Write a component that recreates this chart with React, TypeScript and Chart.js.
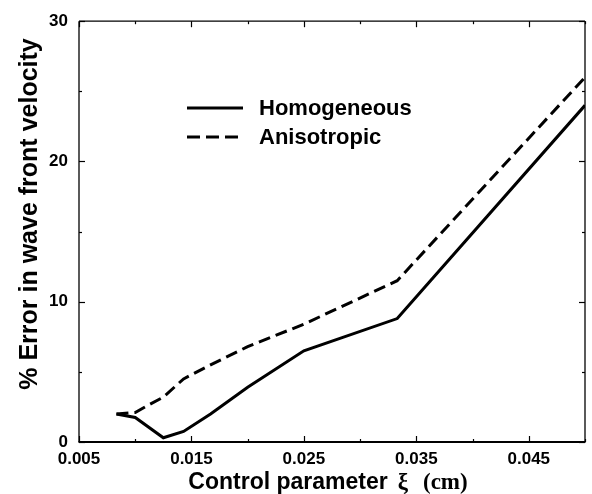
import React, { useEffect, useRef } from "react";
import { Chart, registerables } from "chart.js";

Chart.register(...registerables);

// Data
const homogeneousX = [0.00833, 0.01, 0.0125, 0.0143, 0.0167, 0.02, 0.025, 0.0333, 0.05];
const homogeneousY = [2.0, 1.75, 0.3, 0.75, 2.0, 3.9, 6.5, 8.8, 24.0];
const anisotropicX = [0.00833, 0.01, 0.0111, 0.0125, 0.0143, 0.0167, 0.02, 0.025, 0.0333, 0.05];
const anisotropicY = [2.0, 2.1, 2.6, 3.2, 4.5, 5.5, 6.8, 8.4, 11.5, 26.0];
const seriesLabels = ["Homogeneous", "Anisotropic"];
const xTitleMain = "Control parameter";
const xTitleSymbol = "\u03BE";
const xTitleUnit = "(cm)";
const yTitle = "% Error in wave front velocity";

const SANS = "'Liberation Sans', Arial, Helvetica, sans-serif";
const SERIF = "'Liberation Serif', 'Times New Roman', serif";

const decorPlugin = {
  id: "decor",
  afterDraw(chart: any) {
    const { ctx, chartArea: a, scales } = chart;
    const xs = scales.x;
    const ys = scales.y;
    ctx.save();
    ctx.strokeStyle = "#000";
    ctx.fillStyle = "#000";
    ctx.setLineDash([]);

    const seg = (x1: number, y1: number, x2: number, y2: number) => {
      ctx.beginPath();
      ctx.moveTo(x1, y1);
      ctx.lineTo(x2, y2);
      ctx.stroke();
    };
    // frame
    ctx.lineWidth = 1.3;
    seg(a.left, a.top, a.right, a.top);
    seg(a.left, a.top, a.left, a.bottom);
    seg(a.right, a.top, a.right, a.bottom);
    ctx.lineWidth = 2;
    seg(a.left - 0.5, a.bottom, a.right + 0.5, a.bottom);

    ctx.lineWidth = 1.2;
    xs.ticks.forEach((t: any) => {
      const px = Math.round(xs.getPixelForValue(t.value)) + 0.5;
      const major = Math.round(t.value * 1000) % 10 === 5;
      const len = major ? 6 : 3;
      seg(px, a.bottom, px, a.bottom - len);
      seg(px, a.top, px, a.top + len);
    });
    ys.ticks.forEach((t: any) => {
      const py = Math.round(ys.getPixelForValue(t.value)) + 0.5;
      const major = Math.round(t.value) % 10 === 0;
      const len = major ? 6 : 3;
      seg(a.left, py, a.left + len, py);
      seg(a.right, py, a.right - len, py);
    });

    // Legend
    const ds = chart.data.datasets;
    const legX = 187;
    const legY = [108, 137];
    ctx.font = `bold 22px ${SANS}`;
    ctx.textBaseline = "middle";
    ctx.textAlign = "left";
    ds.forEach((d: any, i: number) => {
      ctx.lineWidth = 3;
      ctx.setLineDash(d.legendDash || []);
      seg(legX, legY[i], legX + 56, legY[i]);
      ctx.setLineDash([]);
      ctx.fillText(d.label, 259, legY[i] + 1);
    });

    // X axis title (mixed fonts)
    ctx.textBaseline = "alphabetic";
    ctx.font = `bold 23px ${SANS}`;
    const w1 = ctx.measureText(xTitleMain).width;
    ctx.font = `bold 23px ${SERIF}`;
    const w2 = ctx.measureText(xTitleSymbol).width;
    const w3 = ctx.measureText(xTitleUnit).width;
    const gap1 = 10;
    const gap2 = 15;
    const total = w1 + gap1 + w2 + gap2 + w3;
    const cx = 328;
    const startX = cx - total / 2;
    const ty = 489;
    ctx.font = `bold 23px ${SANS}`;
    ctx.fillText(xTitleMain, startX, ty);
    ctx.font = `bold 23px ${SERIF}`;
    ctx.fillText(xTitleSymbol, startX + w1 + gap1, ty);
    ctx.fillText(xTitleUnit, startX + w1 + gap1 + w2 + gap2, ty);

    // Y axis title
    ctx.save();
    ctx.translate(30, 214);
    ctx.rotate(-Math.PI / 2);
    ctx.textAlign = "center";
    ctx.textBaseline = "middle";
    ctx.font = `bold 25px ${SANS}`;
    ctx.fillText(yTitle, 0, 0);
    ctx.restore();

    ctx.restore();
  },
};

export default function App() {
  const ref = useRef<HTMLCanvasElement | null>(null);
  useEffect(() => {
    if (!ref.current) return;
    const toPts = (xs: number[], ys: number[]) => xs.map((x, i) => ({ x, y: ys[i] }));
    const chart = new Chart(ref.current, {
      type: "line",
      data: {
        datasets: [
          {
            label: seriesLabels[0],
            data: toPts(homogeneousX, homogeneousY),
            borderColor: "#000",
            borderWidth: 3,
            pointRadius: 0,
            tension: 0,
            fill: false,
          },
          {
            label: seriesLabels[1],
            data: toPts(anisotropicX, anisotropicY),
            borderColor: "#000",
            borderWidth: 3,
            borderDash: [12, 6],
            legendDash: [13, 6],
            pointRadius: 0,
            tension: 0,
            fill: false,
          } as any,
        ],
      },
      options: {
        responsive: false,
        animation: false,
        layout: { padding: { left: 0, top: 16, right: 4, bottom: 0 } },
        plugins: { legend: { display: false }, tooltip: { enabled: false } },
        scales: {
          x: {
            type: "linear",
            min: 0.005,
            max: 0.05,
            border: { display: false },
            grid: { display: true, drawOnChartArea: false, drawTicks: false, color: "rgba(0,0,0,0)" },
            ticks: {
              stepSize: 0.005,
              autoSkip: false,
              maxRotation: 0,
              padding: 7,
              color: "#000",
              font: { family: SANS, size: 17, weight: "bold" },
              callback: (v: any) => {
                const n = Math.round(Number(v) * 1000);
                return n % 10 === 5 ? (n / 1000).toFixed(3) : "";
              },
            },
            afterFit: (s: any) => {
              s.height = 52;
            },
          },
          y: {
            type: "linear",
            min: 0,
            max: 30,
            border: { display: false },
            grid: { display: true, drawOnChartArea: false, drawTicks: false, color: "rgba(0,0,0,0)" },
            ticks: {
              stepSize: 5,
              autoSkip: false,
              padding: 11,
              color: "#000",
              font: { family: SANS, size: 17, weight: "bold" },
              callback: (v: any) => {
                const n = Math.round(Number(v));
                return n % 10 === 0 ? String(n) : "";
              },
            },
            afterFit: (s: any) => {
              s.width = 79;
            },
          },
        },
      },
      plugins: [decorPlugin],
    });
    return () => chart.destroy();
  }, []);
  return (
    <div style={{ position: "absolute", left: 0, top: 0, width: 592, height: 494, background: "#fff" }}>
      <canvas ref={ref} width={592} height={494} style={{ width: 592, height: 494, display: "block" }} />
    </div>
  );
}
